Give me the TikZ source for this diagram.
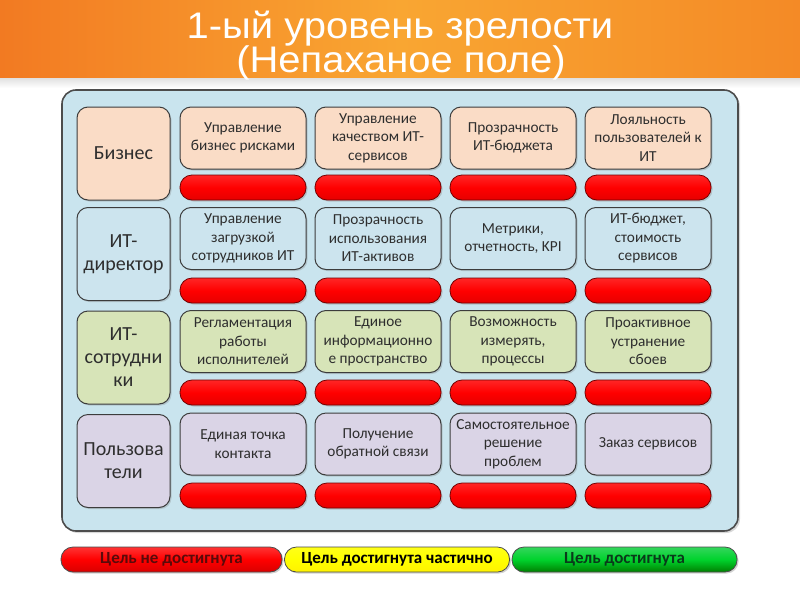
\documentclass[tikz,border=0pt]{standalone}
\usepackage{fontspec}
\setmainfont{Carlito}
\newfontfamily\titlefont{Liberation Sans}
\usetikzlibrary{shadows,fadings}
\definecolor{panelbg}{HTML}{C9E4EE}
\definecolor{peach}{HTML}{FADCC6}
\definecolor{ltblue}{HTML}{CCE4EE}
\definecolor{ltgreen}{HTML}{D7E4B8}
\definecolor{lavender}{HTML}{DAD4E6}
\definecolor{boxline}{HTML}{3C3C3C}
\definecolor{orA}{HTML}{F27A22}
\definecolor{orB}{HTML}{F9A632}
\definecolor{orC}{HTML}{F48A26}
\definecolor{legred}{HTML}{5A0A0A}
\definecolor{leggreen}{HTML}{0A3A1A}
\begin{document}
\begin{tikzpicture}[x=1pt,y=-1pt,
  cell/.style={draw=boxline,line width=1pt,rounded corners=11pt,minimum width=126pt,minimum height=62pt,inner sep=0pt,outer sep=0pt,align=center,font=\fontsize{15.3}{18.5}\selectfont,text=black!82,drop shadow={shadow xshift=1.5pt,shadow yshift=-1.5pt,opacity=0.3}},
  lab/.style={cell,minimum width=93pt,minimum height=93pt,font=\fontsize{20}{23}\selectfont},
  redbar/.style={draw=red!45!black,line width=0.8pt,rounded corners=12pt,minimum width=126pt,minimum height=25pt,inner sep=0pt,outer sep=0pt,top color=red!85!white,bottom color=red!90!black,middle color=red,drop shadow={shadow xshift=1.5pt,shadow yshift=-1.5pt,opacity=0.35}},
  legbar/.style={draw=black!70,line width=0.8pt,rounded corners=12pt,minimum height=25pt,inner sep=0pt,outer sep=0pt,font=\fontsize{17}{18}\selectfont\bfseries,drop shadow={shadow xshift=1.5pt,shadow yshift=-1.5pt,opacity=0.35}},
  ttl/.style={text=white,font=\titlefont\fontsize{37}{40}\selectfont,inner sep=0pt}
]
\useasboundingbox (0,0) rectangle (800,600);
\fill[white] (0,0) rectangle (800,600);
% header
\shade[left color=orA,right color=orC,middle color=orB] (0,0) rectangle (800,78);
\shade[top color=black!12,bottom color=white] (0,78) rectangle (800,88);
\node[ttl] (t1) at (400,28.5) {\scalebox{1.08}[1]{1-ый уровень зрелости}};
\node[ttl] (t2) at (401,62.5) {\scalebox{1.08}[1]{(Непаханое поле)}};
% panel
\node[draw=black!70,line width=1.6pt,rounded corners=14pt,fill=panelbg,minimum width=676pt,minimum height=441pt,inner sep=0pt,drop shadow={shadow xshift=2pt,shadow yshift=-2pt,opacity=0.3}] (panel) at (400,310.5) {};
% row labels
\node[lab,fill=peach] (l1) at (123.5,153.5) {Бизнес};
\node[lab,fill=ltblue] (l2) at (123.5,254) {ИТ-\\директор};
\node[lab,fill=ltgreen] (l3) at (123.5,357.5) {ИТ-\\сотрудни\\ки};
\node[lab,fill=lavender] (l4) at (123.5,461) {Пользова\\тели};
% row 1
\node[cell,fill=peach] (c11) at (243,138) {Управление\\бизнес рисками};
\node[cell,fill=peach] (c12) at (378,138) {Управление\\качеством ИТ-\\сервисов};
\node[cell,fill=peach] (c13) at (513,138) {Прозрачность\\ИТ-бюджета};
\node[cell,fill=peach] (c14) at (648,138) {Лояльность\\пользователей к\\ИТ};
\node[redbar] (r11) at (243,187.5) {};
\node[redbar] (r12) at (378,187.5) {};
\node[redbar] (r13) at (513,187.5) {};
\node[redbar] (r14) at (648,187.5) {};
% row 2
\node[cell,fill=ltblue] (c21) at (243,238.5) {Управление\\загрузкой\\сотрудников ИТ};
\node[cell,fill=ltblue] (c22) at (378,238.5) {Прозрачность\\использования\\ИТ-активов};
\node[cell,fill=ltblue] (c23) at (513,238.5) {Метрики,\\отчетность, KPI};
\node[cell,fill=ltblue] (c24) at (648,238.5) {ИТ-бюджет,\\стоимость\\сервисов};
\node[redbar] (r21) at (243,290.5) {};
\node[redbar] (r22) at (378,290.5) {};
\node[redbar] (r23) at (513,290.5) {};
\node[redbar] (r24) at (648,290.5) {};
% row 3
\node[cell,fill=ltgreen] (c31) at (243,341.5) {Регламентация\\работы\\исполнителей};
\node[cell,fill=ltgreen] (c32) at (378,341.5) {Единое\\информационно\\е пространство};
\node[cell,fill=ltgreen] (c33) at (513,341.5) {Возможность\\измерять,\\процессы};
\node[cell,fill=ltgreen] (c34) at (648,341.5) {Проактивное\\устранение\\сбоев};
\node[redbar] (r31) at (243,392.5) {};
\node[redbar] (r32) at (378,392.5) {};
\node[redbar] (r33) at (513,392.5) {};
\node[redbar] (r34) at (648,392.5) {};
% row 4
\node[cell,fill=lavender] (c41) at (243,444) {Единая точка\\контакта};
\node[cell,fill=lavender] (c42) at (378,444) {Получение\\обратной связи};
\node[cell,fill=lavender] (c43) at (513,444) {Самостоятельное\\решение\\проблем};
\node[cell,fill=lavender] (c44) at (648,444) {Заказ сервисов};
\node[redbar] (r41) at (243,495.5) {};
\node[redbar] (r42) at (378,495.5) {};
\node[redbar] (r43) at (513,495.5) {};
\node[redbar] (r44) at (648,495.5) {};
% legend
\node[legbar,minimum width=221pt,top color=red!80!white,bottom color=red!85!black,middle color=red,text=legred] (g1) at (171.5,559.5) {Цель не достигнута};
\node[legbar,minimum width=225pt,top color=yellow!90!white,bottom color=yellow!90!orange,middle color=yellow,text=black] (g2) at (397,559.5) {Цель достигнута частично};
\node[legbar,minimum width=225pt,top color=green!60!teal!80!white,bottom color=green!50!black,middle color=green!65!teal,text=leggreen] (g3) at (624.5,559.5) {Цель достигнута};
\end{tikzpicture}
\end{document}
